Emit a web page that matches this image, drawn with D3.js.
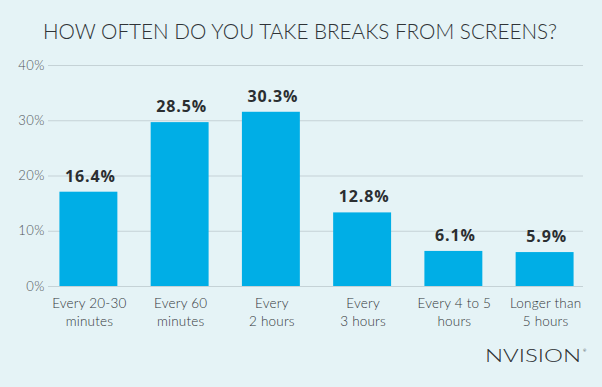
<!DOCTYPE html>
<html>
<head>
<meta charset="utf-8">
<script src="https://cdn.jsdelivr.net/npm/d3@7"></script>
<style>
  body { margin: 0; background: #e5f3f6; }
  svg { display: block; }
</style>
</head>
<body>
<div id="chart"></div>
<script>
var svgWidth = 602;
var svgHeight = 387;

// data
var categories = ["Every 20-30\nminutes", "Every 60\nminutes", "Every\n2 hours", "Every\n3 hours", "Every 4 to 5\nhours", "Longer than\n5 hours"];
var values = [16.4, 28.5, 30.3, 12.8, 6.1, 5.9];
var yTicks = [0, 10, 20, 30, 40];

var svg = d3.select("#chart")
  .append("svg")
  .attr("width", svgWidth)
  .attr("height", svgHeight);

svg.append("rect")
  .attr("width", svgWidth)
  .attr("height", svgHeight)
  .attr("fill", "#e5f3f6");

// title
svg.append("text")
  .attr("x", 300)
  .attr("y", 39)
  .attr("text-anchor", "middle")
  .attr("font-family", "Lato")
  .attr("font-weight", 300)
  .attr("font-size", 21)
  .attr("fill", "#2f3337")
  .attr("textLength", 514)
  .attr("lengthAdjust", "spacingAndGlyphs")
  .text("HOW OFTEN DO YOU TAKE BREAKS FROM SCREENS?");

// scales
var xScale = d3.scaleBand()
  .domain(categories)
  .range([43, 590])
  .paddingInner(0.365)
  .paddingOuter(0.18);

// gridlines/axis
var yScale = d3.scaleLinear()
  .domain([0, 40])
  .range([286, 65]);

// bars in the original are drawn a touch taller than the grid
var barScale = d3.scaleLinear()
  .domain([0, 40])
  .range([286, 56]);

var yAxis = d3.axisLeft()
  .scale(yScale)
  .tickValues(yTicks)
  .tickSize(-(583 - 48))
  .tickPadding(3)
  .tickFormat(function(d) { return d + "%"; });

var gy = svg.append("g")
  .attr("transform", "translate(48,0)")
  .call(yAxis);
gy.select(".domain").remove();
gy.selectAll(".tick line")
  .attr("stroke", "#c5d2d6")
  .attr("stroke-width", 1.2);
gy.selectAll(".tick text")
  .attr("font-family", "Lato")
  .attr("font-weight", 300)
  .attr("font-size", 13)
  .attr("letter-spacing", 0.5)
  .attr("fill", "#50555a");

// bars
svg.selectAll("rect.bar")
  .data(values)
  .enter()
  .append("rect")
  .attr("class", "bar")
  .attr("x", function(d, i) { return xScale(categories[i]); })
  .attr("y", function(d) { return barScale(d); })
  .attr("width", xScale.bandwidth())
  .attr("height", function(d) { return barScale(0) - barScale(d); })
  .attr("fill", "#00aee6");

// value labels
svg.selectAll("text.val")
  .data(values)
  .enter()
  .append("text")
  .attr("class", "val")
  .attr("x", function(d, i) { return xScale(categories[i]) + xScale.bandwidth() / 2 + 2; })
  .attr("y", function(d) { return barScale(d) - 10; })
  .attr("text-anchor", "middle")
  .attr("font-family", "Open Sans")
  .attr("font-weight", 700)
  .attr("font-size", 16)
  .attr("letter-spacing", 0.9)
  .attr("fill", "#2b2e31")
  .text(function(d) { return d.toFixed(1) + "%"; });

// category labels
var cat = svg.selectAll("text.cat")
  .data(categories)
  .enter()
  .append("text")
  .attr("class", "cat")
  .attr("text-anchor", "middle")
  .attr("font-family", "Lato")
  .attr("font-weight", 300)
  .attr("font-size", 13.5)
  .attr("letter-spacing", 0.2)
  .attr("fill", "#33373b");

cat.each(function(d) {
  var t = d3.select(this);
  var cx = xScale(d) + xScale.bandwidth() / 2 + 1;
  d.split("\n").forEach(function(line, i) {
    t.append("tspan")
      .attr("x", cx)
      .attr("y", 308 + i * 18)
      .text(line);
  });
});

// logo
svg.append("text")
  .attr("x", 485)
  .attr("y", 362)
  .attr("font-family", "Lato")
  .attr("font-weight", 300)
  .attr("font-size", 18.5)
  .attr("fill", "#2b2e31")
  .attr("textLength", 96)
  .attr("lengthAdjust", "spacingAndGlyphs")
  .text("NVISION");
svg.append("text")
  .attr("x", 583)
  .attr("y", 352)
  .attr("font-family", "Lato")
  .attr("font-size", 4)
  .attr("fill", "#2b2e31")
  .text("®");
</script>
</body>
</html>
